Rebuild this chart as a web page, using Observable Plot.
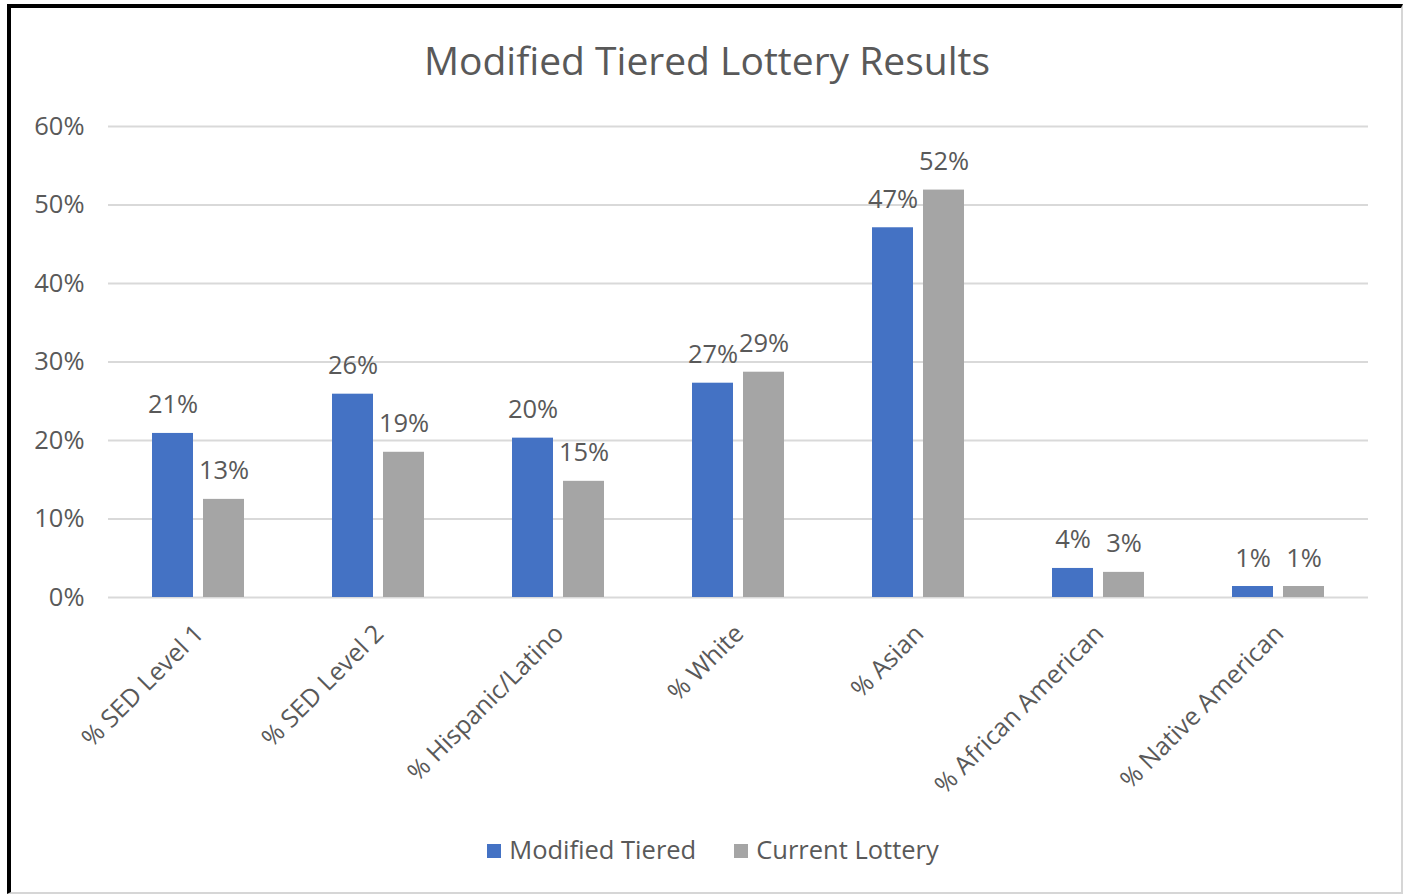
<!DOCTYPE html>
<html>
<head>
<meta charset="utf-8">
<script src="https://cdn.jsdelivr.net/npm/d3@7"></script>
<script src="https://cdn.jsdelivr.net/npm/@observablehq/plot@0.6"></script>
<style>
  html, body { margin: 0; padding: 0; background: #fff; width: 1404px; height: 896px; overflow: hidden; }
  body { position: relative; font-family: "Open Sans", "Noto Sans", sans-serif; }
  #frame { position: absolute; left: 7px; top: 4px; width: 1396px; height: 890px;
           border-left: 4px solid #000; border-top: 4px solid #000;
           border-right: 2px solid #d6d6d6; border-bottom: 2px solid #d6d6d6; box-sizing: border-box; }
  #title { position: absolute; left: 0; width: 1414px; top: 35px; text-align: center;
           font-size: 39px; color: #595959; line-height: 50px; }
  #chart { position: absolute; left: 0; top: 0; }
  #legend { position: absolute; left: 0; width: 1426px; top: 831px; text-align: center;
            font-size: 25.5px; color: #595959; line-height: 36px; }
  #legend span.item { display: inline-block; margin: 0 19px; }
  #legend span.sw { display: inline-block; width: 14px; height: 14px; margin-right: 8px; vertical-align: 1px; }
</style>
</head>
<body>
<div id="frame"></div>
<div id="chart"></div>
<div id="title">Modified Tiered Lottery Results</div>
<div id="legend"></div>
<script>
const categories = ["% SED Level 1", "% SED Level 2", "% Hispanic/Latino", "% White", "% Asian", "% African American", "% Native American"];
const seriesNames = ["Modified Tiered", "Current Lottery"];
const modifiedTiered = [20.9, 25.9, 20.3, 27.3, 47.1, 3.7, 1.4];
const currentLottery = [12.5, 18.5, 14.8, 28.7, 51.9, 3.2, 1.4];
const seriesColors = ["#4472C4", "#A5A5A5"];
const yTicks = [0, 10, 20, 30, 40, 50, 60];

const rows = [];
categories.forEach((c, i) => {
  rows.push({category: c, series: seriesNames[0], value: modifiedTiered[i]});
  rows.push({category: c, series: seriesNames[1], value: currentLottery[i]});
});

const textColor = "#595959";
const font = "Open Sans, Noto Sans, sans-serif";

const plot = Plot.plot({
  width: 1404,
  height: 800,
  marginLeft: 107,
  marginRight: 35,
  marginTop: 126,
  marginBottom: 203,
  style: {fontFamily: font, background: "transparent", overflow: "visible"},
  fx: {domain: categories, padding: 0, label: null, axis: null},
  x: {domain: seriesNames, paddingInner: 0.2, paddingOuter: 0.85, axis: null, label: null},
  y: {domain: [0, 60], axis: null},
  color: {domain: seriesNames, range: seriesColors},
  marks: [
    Plot.ruleY(yTicks, {stroke: "#D9D9D9", strokeWidth: 2}),
    Plot.axisY({ticks: yTicks, tickSize: 0, tickPadding: 24, tickFormat: d => d + "%", fontSize: 25.5, color: textColor, label: null, facetAnchor: "left"}),
    Plot.barY(rows, {fx: "category", x: "series", y: "value", fill: "series"}),
    Plot.text(rows, {fx: "category", x: "series", y: "value", text: d => Math.round(d.value) + "%", lineAnchor: "bottom", dy: -20, fontSize: 25.5, fill: textColor}),
    Plot.axisFx({domain: categories, anchor: "bottom", tickSize: 0, tickRotate: -45, tickPadding: 32, fontSize: 25, color: textColor, label: null, dx: 1})
  ]
});
document.getElementById("chart").appendChild(plot);

const legend = document.getElementById("legend");
seriesNames.forEach((s, i) => {
  const item = document.createElement("span");
  item.className = "item";
  const sw = document.createElement("span");
  sw.className = "sw";
  sw.style.background = seriesColors[i];
  item.appendChild(sw);
  item.appendChild(document.createTextNode(s));
  legend.appendChild(item);
});
</script>
</body>
</html>
